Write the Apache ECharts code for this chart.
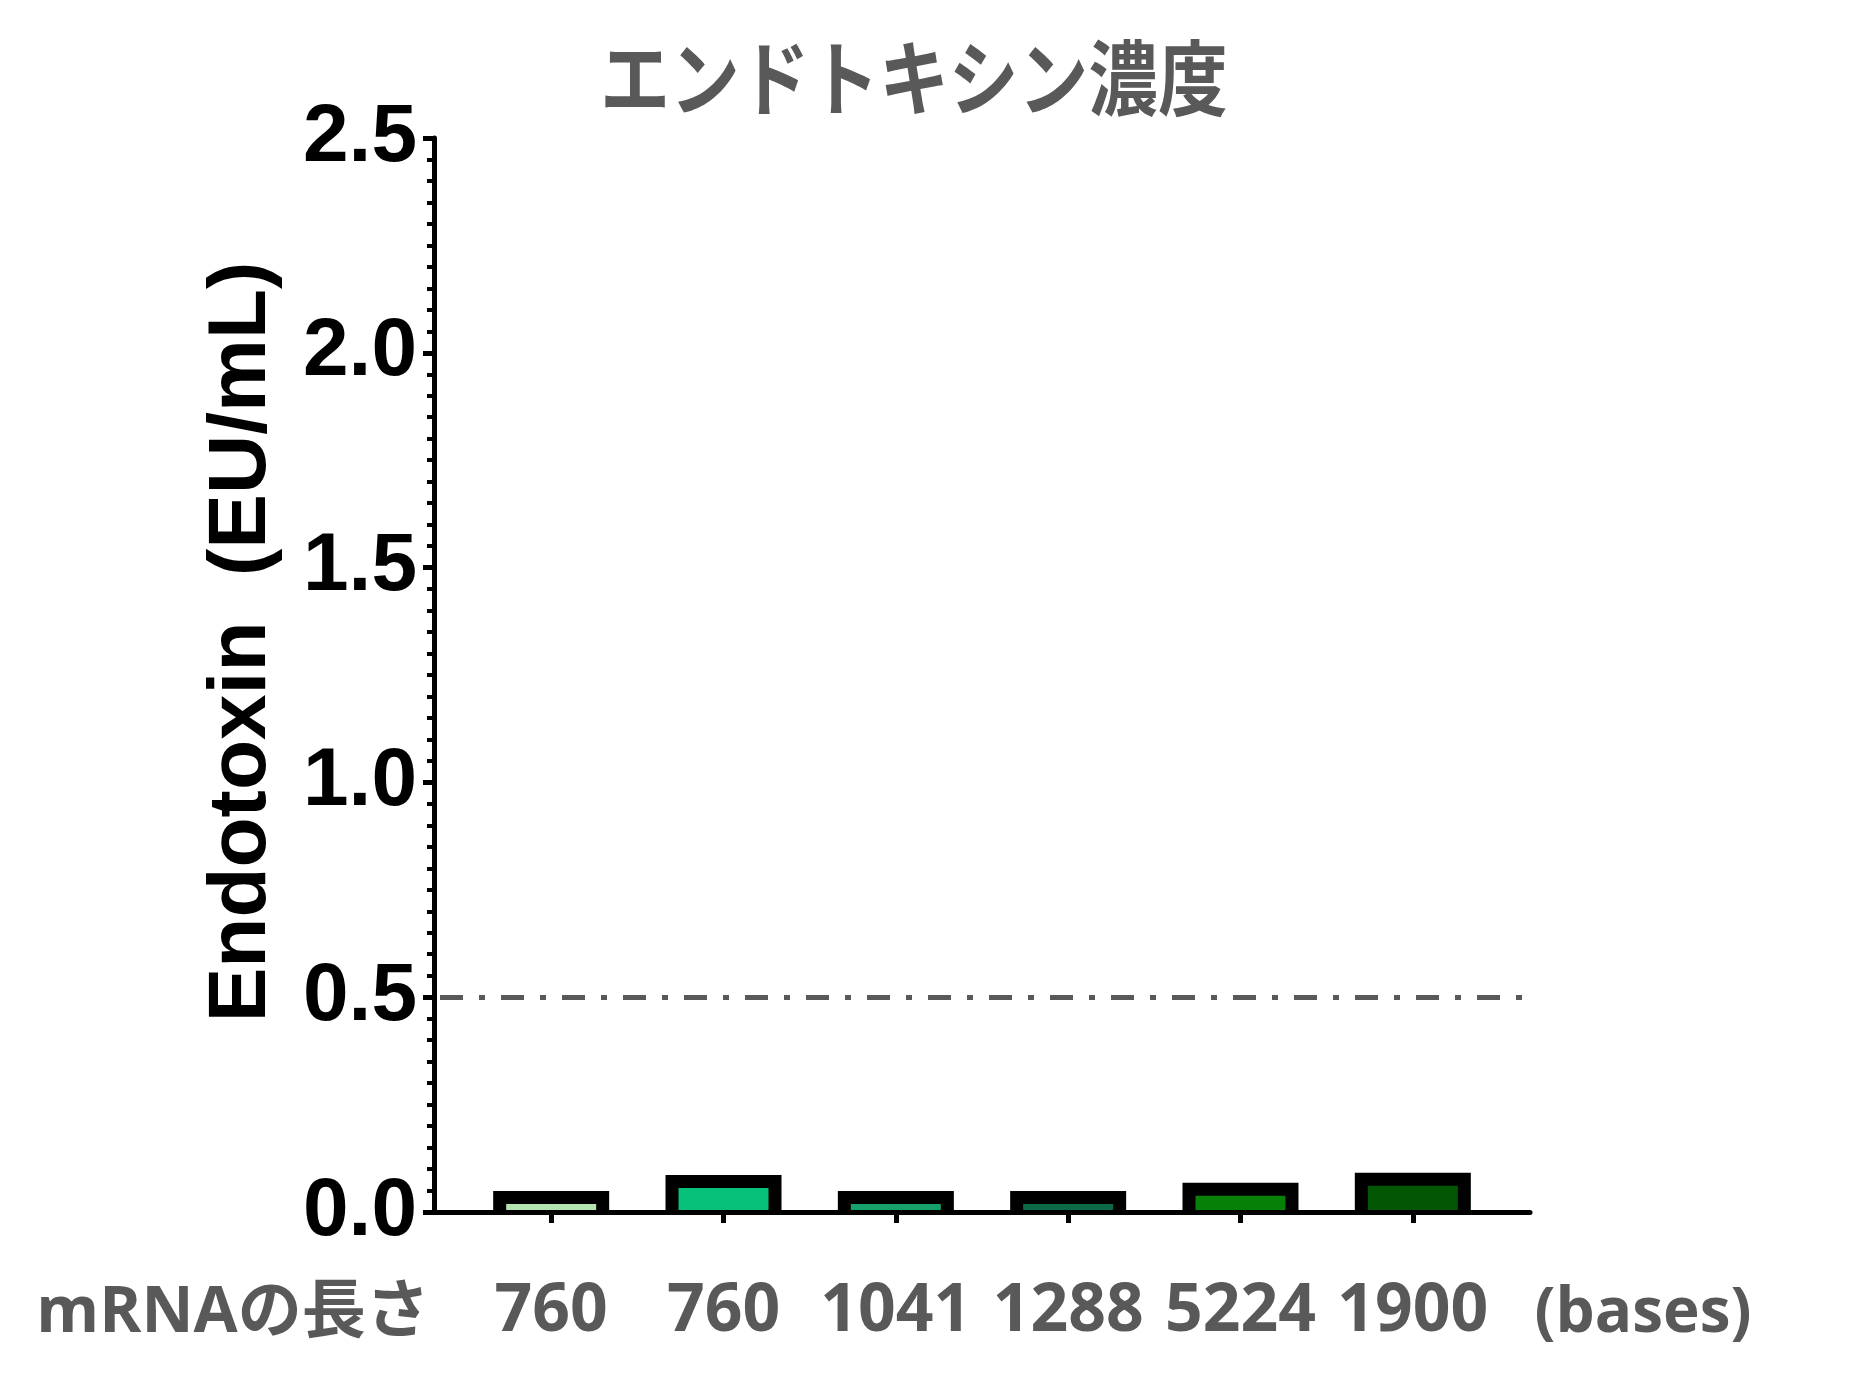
<!DOCTYPE html>
<html><head><meta charset="utf-8">
<script src="https://cdn.jsdelivr.net/npm/echarts@6/dist/echarts.min.js"></script>
<style>html,body{margin:0;padding:0;background:#fff}#c{width:1871px;height:1390px}</style>
</head><body><div id="c"></div>
<script>
// ---- data ----
const lengths = ['760', '760', '1041', '1288', '5224', '1900'];
const values = [0.034, 0.071, 0.034, 0.034, 0.053, 0.076];
const fillColors = ['#b4e4b0', '#07c07a', '#16a06a', '#0c6a47', '#078007', '#035603'];
const yMin = 0, yMax = 2.5, yStep = 0.5;
const limitValue = 0.5;
const titleText = 'エンドトキシン濃度';
const yName = 'Endotoxin  (EU/mL)';
const xPrefix = 'mRNAの長さ';
const xSuffix = '(bases)';

const idx = lengths.map((_, i) => i);
const chart = echarts.init(document.getElementById('c'));
const grey = '#595959';

chart.setOption({
  backgroundColor: '#fff',
  animation: false,
  grid: { left: 434, right: 341, top: 138, bottom: 178, containLabel: false },
  xAxis: {
    type: 'value', min: -0.68, max: 5.68, z: 3,
    splitLine: { show: false },
    axisLine: { show: true, onZero: false, lineStyle: { color: '#000', width: 5 } },
    axisTick: { show: true, customValues: idx, length: 11, lineStyle: { color: '#000', width: 5 } },
    axisLabel: {
      customValues: idx,
      formatter: v => lengths[Math.round(v)],
      fontSize: 66, fontWeight: 'bold', fontFamily: 'Open Sans', color: grey, margin: 67
    }
  },
  yAxis: {
    type: 'value', min: yMin, max: yMax, interval: yStep, z: 3,
    splitLine: { show: false },
    axisLine: { show: true, onZero: false, lineStyle: { color: '#000', width: 5 } },
    axisTick: { show: true, length: 11, lineStyle: { color: '#000', width: 5 } },
    minorTick: { show: true, splitNumber: 10, length: 7, lineStyle: { color: '#000', width: 4 } },
    axisLabel: {
      formatter: v => v.toFixed(1),
      fontSize: 82, fontWeight: 'bold', fontFamily: 'Liberation Sans', color: '#000', margin: 17
    }
  },
  series: [{
    type: 'custom',
    data: values.map((v, i) => [i, v]),
    renderItem: function (params, api) {
      const i = api.value(0), v = api.value(1);
      const top = api.coord([i, v]);
      const base = api.coord([i, 0]);
      const B = 13, OW = 116, IW = 90;
      const outerTop = top[1] - B / 2;
      const innerTop = Math.min(top[1] + B / 2, base[1]);
      return {
        type: 'group',
        children: [
          { type: 'rect', shape: { x: top[0] - OW / 2, y: outerTop, width: OW, height: base[1] - outerTop }, style: { fill: '#000' } },
          { type: 'rect', shape: { x: top[0] - IW / 2, y: innerTop, width: IW, height: base[1] - innerTop }, style: { fill: fillColors[params.dataIndex] } }
        ]
      };
    },
    markLine: {
      silent: true,
      symbol: 'none',
      label: { show: false },
      lineStyle: { color: grey, width: 5, type: [23, 16, 6, 16], dashOffset: 55 },
      emphasis: { disabled: true },
      data: [{ yAxis: limitValue }]
    }
  }],
  graphic: [
    {
      type: 'text', x: 914, y: 78, scaleX: 0.85,
      style: { text: titleText, fontSize: 82, fontWeight: 'bold', fontFamily: 'Noto Sans CJK JP', fill: grey, textAlign: 'center', textVerticalAlign: 'middle' }
    },
    {
      type: 'text', x: 242, y: 642, rotation: Math.PI / 2,
      style: { text: yName, fontSize: 82, fontWeight: 'bold', fontFamily: 'Liberation Sans', fill: '#000', textAlign: 'center', textVerticalAlign: 'middle' }
    },
    {
      type: 'text', x: 233, y: 1314,
      style: { text: xPrefix, fontSize: 64, fontWeight: 'bold', fontFamily: 'Open Sans, Noto Sans CJK JP', fill: grey, textAlign: 'center', textVerticalAlign: 'middle' }
    },
    {
      type: 'text', x: 1643, y: 1314,
      style: { text: xSuffix, fontSize: 62, fontWeight: 'bold', fontFamily: 'Open Sans', fill: grey, textAlign: 'center', textVerticalAlign: 'middle' }
    }
  ]
});
</script>
</body></html>
